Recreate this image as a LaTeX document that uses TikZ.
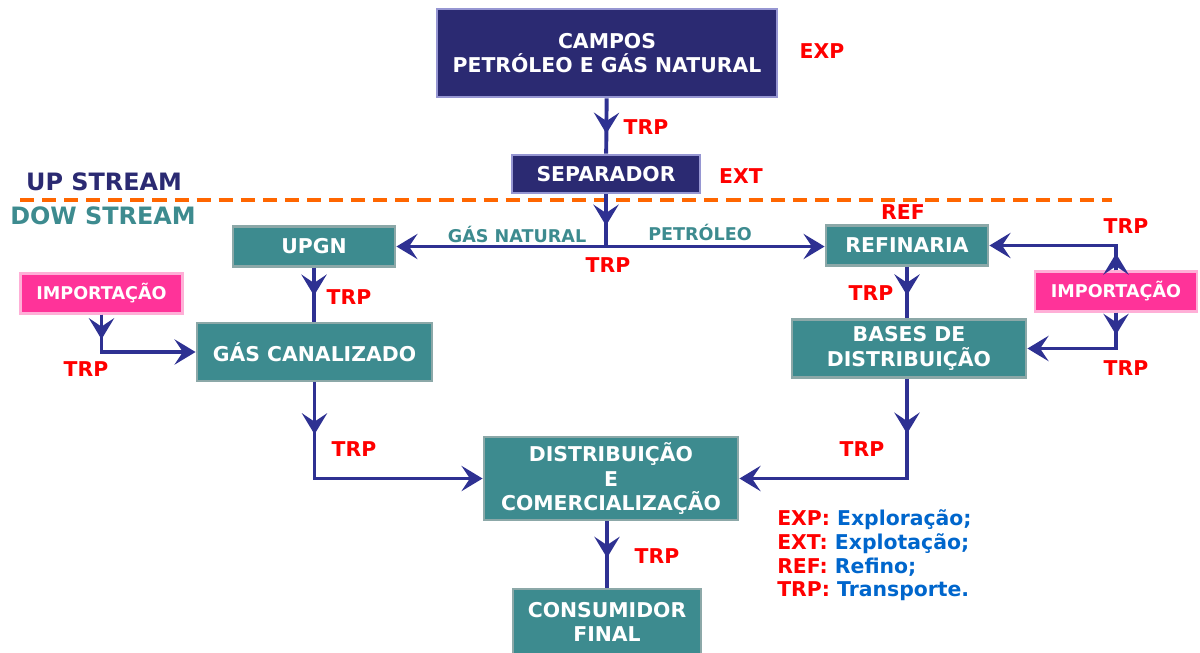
\documentclass[tikz,border=0pt]{standalone}
\usepackage{fontspec}
\setmainfont{DejaVu Sans}
\usetikzlibrary{arrows.meta,decorations.markings}

\definecolor{navyfill}{RGB}{43,42,114}
\definecolor{navyline}{RGB}{150,150,210}
\definecolor{tealfill}{RGB}{61,139,143}
\definecolor{tealline}{RGB}{140,168,168}
\definecolor{pinkfill}{RGB}{255,51,153}
\definecolor{pinkline}{RGB}{255,175,215}
\definecolor{flowcol}{RGB}{46,49,146}
\definecolor{tagred}{RGB}{255,0,0}
\definecolor{legblue}{RGB}{0,102,204}
\definecolor{dashorange}{RGB}{255,102,0}

\tikzset{
  box/.style={line width=2pt, text=white, align=center, inner sep=0pt,
    font=\bfseries\fontsize{14.5}{17.5}\selectfont},
  navybox/.style={box, draw=navyline, fill=navyfill},
  tealbox/.style={box, draw=tealline, fill=tealfill},
  pinkbox/.style={box, draw=pinkline, fill=pinkfill,
    font=\bfseries\fontsize{12.5}{14}\selectfont},
  flow/.style={draw=flowcol, line width=2.8pt,
    >={Stealth[length=15pt 0 0,width=18pt 0 0,inset=6pt 0 0]}},
  midarrow/.style={postaction={decorate}, decoration={markings,
    mark=at position #1 with {\arrow{>}}}},
  midarrow/.default=0.6,
  tag/.style={text=tagred, font=\bfseries\fontsize{14.5}{17}\selectfont},
  flowname/.style={text=tealfill, font=\bfseries\fontsize{12.5}{14}\selectfont},
  legend/.style={anchor=west, text=legblue, inner sep=0pt,
    font=\bfseries\fontsize{14.5}{17}\selectfont},
}

\begin{document}
\begin{tikzpicture}[x=0.025cm,y=-0.025cm]
  \useasboundingbox (0,0) rectangle (1200,652);
  % boxes
  \node[navybox, minimum width=8.5cm, minimum height=2.2cm] (campos) at (607,53) {CAMPOS\\PETRÓLEO E GÁS NATURAL};
  \node[navybox, minimum width=4.7cm, minimum height=0.95cm] (sep) at (606,174) {SEPARADOR};
  \node[tealbox, minimum width=4.05cm, minimum height=0.98cm] (upgn) at (314,246.5) {UPGN};
  \node[tealbox, minimum width=4.05cm, minimum height=0.98cm] (refin) at (907,245.5) {REFINARIA};
  \node[tealbox, minimum width=5.85cm, minimum height=1.45cm] (bases) at (909,348.5) {BASES DE\\DISTRIBUIÇÃO};
  \node[tealbox, minimum width=5.875cm, minimum height=1.45cm] (gascan) at (314.5,352) {GÁS CANALIZADO};
  \node[tealbox, minimum width=6.35cm, minimum height=2.075cm] (distr) at (611,478.5) {DISTRIBUIÇÃO\\E\\COMERCIALIZAÇÃO};
  \node[tealbox, minimum width=4.7cm, minimum height=1.65cm] (cons) at (607,622) {CONSUMIDOR\\FINAL};
  \node[pinkbox, minimum width=4.05cm, minimum height=0.98cm] (imp1) at (101.5,293.5) {IMPORTAÇÃO};
  \node[pinkbox, minimum width=4.05cm, minimum height=0.98cm] (imp2) at (1116,291.5) {IMPORTAÇÃO};

  % up / down stream
  \draw[dashorange, line width=2.8pt, dash pattern=on 10pt off 5.7pt] (20,200) -- (1112,200);
  \node[text=navyfill, font=\bfseries\fontsize{17}{20}\selectfont] (up) at (104,182) {UP STREAM};
  \node[text=tealfill, font=\bfseries\fontsize{17}{20}\selectfont] (down) at (103,216) {DOW STREAM};

  % corners
  \coordinate (split) at (sep.south |- upgn.east);
  \coordinate (c1) at (imp1.south |- gascan.west);
  \coordinate (c2) at (gascan.south |- distr.west);
  \coordinate (c3) at (imp2.north |- refin.east);
  \coordinate (c4) at (imp2.south |- bases.east);
  \coordinate (c5) at (bases.south |- distr.east);

  % flows
  \draw[flow, midarrow=0.64] (campos) -- (sep);
  \draw[flow, midarrow] (sep.south) -- (split);
  \draw[flow, ->] (split) -- (upgn.east);
  \draw[flow, ->] (split) -- (split -| refin.west);
  \draw[flow, midarrow=0.52] (upgn.south) -- (gascan.north -| upgn.south);
  \draw[flow, midarrow=0.56] (refin.south) -- (bases.north -| refin.south);
  \draw[flow, midarrow=0.66] (imp1.south) -- (c1);
  \draw[flow, ->] (imp1.south) |- (gascan.west);
  \draw[flow, midarrow=0.68] (imp2.north) -- (c3);
  \draw[flow, ->] (imp2.north) |- (refin.east);
  \draw[flow, midarrow=0.62] (imp2.south) -- (c4);
  \draw[flow, ->] (imp2.south) |- (bases.east);
  \draw[flow, midarrow=0.54] (gascan.south) -- (c2);
  \draw[flow, ->] (gascan.south) |- (distr.west);
  \draw[flow, midarrow=0.55] (bases.south -| refin.south) -- (c5 -| refin.south);
  \draw[flow, ->] (bases.south -| refin.south) |- (distr.east);
  \draw[flow, midarrow=0.55] (distr.south -| cons.north) -- (cons.north);

  % labels
  \node[flowname] (gn) at (517,234) {GÁS NATURAL};
  \node[flowname] (pt) at (700,232) {PETRÓLEO};
  \node[tag] (exp) at (822,51) {EXP};
  \node[tag] (ext) at (741,176) {EXT};
  \node[tag] (ref) at (903,212) {REF};
  \node[tag] (trp1) at (646,127) {TRP};
  \node[tag] (trp2) at (608,265) {TRP};
  \node[tag] (trp3) at (1126,226) {TRP};
  \node[tag] (trp4) at (1126,368) {TRP};
  \node[tag] (trp5) at (871,293) {TRP};
  \node[tag] (trp6) at (349,297) {TRP};
  \node[tag] (trp7) at (86,369) {TRP};
  \node[tag] (trp8) at (354,449) {TRP};
  \node[tag] (trp9) at (862,449) {TRP};
  \node[tag] (trp10) at (657,556) {TRP};

  % legend
  \node[legend] (leg1) at (777,520) {\textcolor{tagred}{EXP:} Exploração;};
  \node[legend] (leg2) at (777,544) {\textcolor{tagred}{EXT:} Explotação;};
  \node[legend] (leg3) at (777,567) {\textcolor{tagred}{REF:} Refino;};
  \node[legend] (leg4) at (777,591) {\textcolor{tagred}{TRP:} Transporte.};
\end{tikzpicture}
\end{document}
